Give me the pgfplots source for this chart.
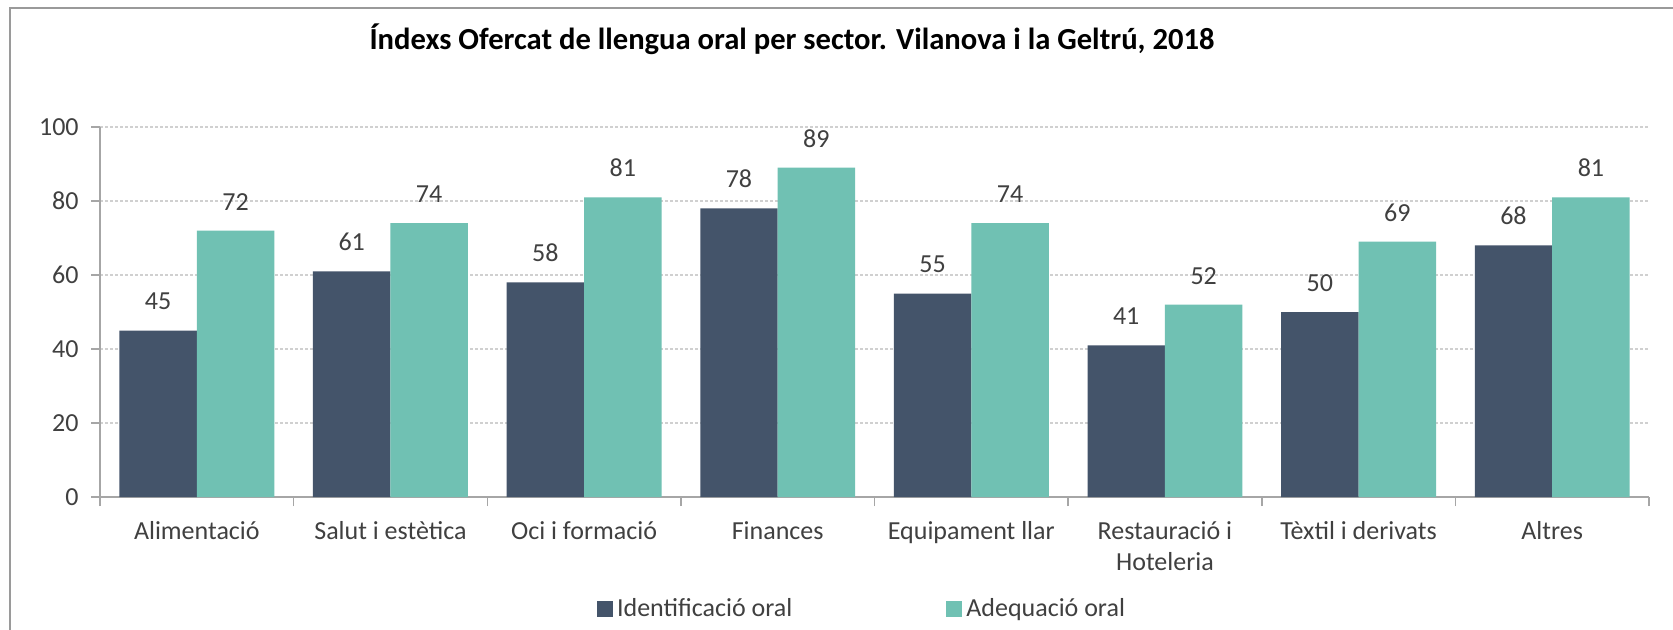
\documentclass[border=0pt]{standalone}
\usepackage{fontspec}
\setmainfont{Carlito}
\usepackage{pgfplots}
\pgfplotsset{compat=1.18}
\definecolor{darkbar}{HTML}{44546A}
\definecolor{tealbar}{HTML}{70C1B3}
\definecolor{axisgray}{HTML}{A6A6A6}
\definecolor{gridgray}{HTML}{D0D0D0}
\definecolor{framegray}{HTML}{9A9A9A}
\definecolor{txt}{HTML}{404040}
\begin{document}
\begin{tikzpicture}[x=0.5pt,y=-0.5pt]
\useasboundingbox (0,0) rectangle (1673,629);
\fill[white] (0,0) rectangle (1673,629);
\draw[framegray, line width=1pt] (10,640) -- (10,8) -- (1690,8);
\node[anchor=base, font=\bfseries\fontsize{15.3}{18}\selectfont, text=black, inner sep=0pt] at (792,49) {Índexs Ofercat de llengua oral per sector. Vilanova i la Geltrú, 2018};
\begin{axis}[
  at={(50pt,-248.5pt)}, anchor=south west,
  scale only axis, width=774.5pt, height=185pt,
  xmin=-0.5, xmax=7.5, ymin=0, ymax=100,
  clip=false,
  axis x line*=bottom, axis y line*=left,
  axis line style={axisgray, line width=0.75pt},
  xtick={-0.5,0.5,...,7.5},
  x tick label as interval,
  xticklabels={Alimentació, Salut i estètica, Oci i formació, Finances, Equipament llar, {Restauració i\\Hoteleria}, Tèxtil i derivats, Altres},
  ytick={0,20,...,100},
  tick align=outside,
  major tick length=4.5pt,
  tick style={axisgray, line width=0.75pt},
  ymajorgrids=true,
  grid style={gridgray, dash pattern=on 1.5pt off 1pt, line width=0.6pt},
  tick label style={font=\fontsize{13}{15.5}\selectfont, text=txt},
  /pgf/number format/assume math mode=true,
  yticklabel style={anchor=east, inner sep=0pt, xshift=-6pt},
  xticklabel style={anchor=north, inner sep=0pt, yshift=-7.5pt, align=center},
  ybar,
  bar width=0.4,
  nodes near coords,
  every node near coord/.append style={font=\fontsize{13}{15.5}\selectfont, text=txt, inner sep=0pt, anchor=south, yshift=10pt},
  legend style={at={(axis description cs:0.4913,-0.3027)}, anchor=center, draw=none, fill=none, legend columns=2, font=\fontsize{13}{15.5}\selectfont, text=txt, inner sep=0pt, nodes={inner sep=0pt}, /tikz/every even column/.append style={column sep=77pt}, /tikz/every odd column/.append style={column sep=2pt}},
  legend cell align=left,
]
\addplot[fill=darkbar, draw=none, bar shift=-0.2, legend image code/.code={\fill[darkbar] (0pt,-4pt) rectangle (8pt,4pt);}]
  coordinates {(0,45) (1,61) (2,58) (3,78) (4,55) (5,41) (6,50) (7,68)};
\addplot[fill=tealbar, draw=none, bar shift=0.2, legend image code/.code={\fill[tealbar] (0pt,-4pt) rectangle (8pt,4pt);}]
  coordinates {(0,72) (1,74) (2,81) (3,89) (4,74) (5,52) (6,69) (7,81)};
\legend{Identificació oral, Adequació oral}
\end{axis}
\end{tikzpicture}
\end{document}
